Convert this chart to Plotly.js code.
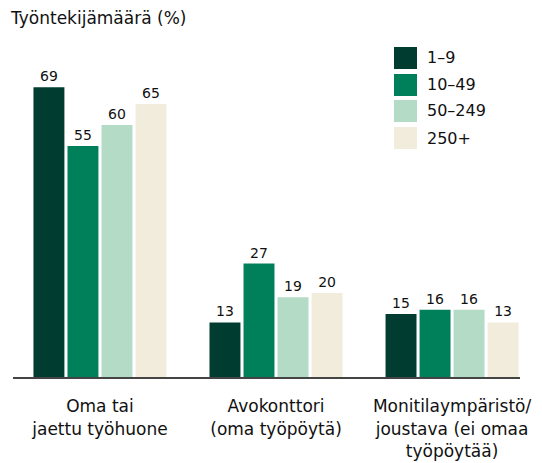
<!DOCTYPE html>
<html><head><meta charset="utf-8">
<script src="https://cdn.plot.ly/plotly-3.0.1.min.js"></script>
<style>html,body{margin:0;padding:0;background:#fff}#chart{width:542px;height:463px}</style>
</head><body><div id="chart"></div>
<script>
const categories = ["Oma tai<br>jaettu työhuone", "Avokonttori<br>(oma työpöytä)", "Monitilaympäristö/<br>joustava (ei omaa<br>työpöytää)"];
const seriesNames = ["1–9", "10–49", "50–249", "250+"];
const v1_9 = [69, 13, 15];
const v10_49 = [55, 27, 16];
const v50_249 = [60, 19, 16];
const v250 = [65, 20, 13];
const seriesValues = [v1_9, v10_49, v50_249, v250];
const colors = ["#003d30", "#00805a", "#b4dbc5", "#f2ecdc"];
const yTitle = "Työntekijämäärä (%)";

const W = 542, H = 463;
const L = 13, R = 520, T = 40, B = 377;
const fontFam = "'DejaVu Sans', sans-serif";

const traces = seriesValues.map((vals, i) => ({
  type: 'bar', name: seriesNames[i], x: [0,1,2], y: vals,
  marker: {color: colors[i]},
  text: vals.map(String), textposition: 'outside', cliponaxis: false,
  textfont: {size: 14, color: '#111', family: fontFam},
  showlegend: false, hoverinfo: 'skip'
}));

const px2x = p => (p - L) / (R - L);
const px2y = p => (B - p) / (B - T);
const shapes = [], annotations = [];
const legTop = [47, 74, 100, 127];
seriesNames.forEach((n, i) => {
  shapes.push({type:'rect', xref:'paper', yref:'paper', x0:px2x(394), x1:px2x(417), y0:px2y(legTop[i]+22), y1:px2y(legTop[i]), fillcolor:colors[i], line:{width:0}});
  annotations.push({xref:'paper', yref:'paper', x:px2x(425), y:px2y(legTop[i]+11), xanchor:'left', yanchor:'middle', text:n, showarrow:false, font:{size:16, color:'#111', family:fontFam}});
});

const layout = {
  width: W, height: H,
  margin: {l: L, r: W - R, t: T, b: H - B, pad: 0},
  paper_bgcolor: '#fff', plot_bgcolor: '#fff',
  font: {family: fontFam, color: '#111'},
  title: {text: yTitle, x: 11/W, xref: 'container', xanchor: 'left', y: 1 - 18/H, yref: 'container', yanchor: 'middle', font: {size: 17, color: '#111', family: fontFam}},
  barmode: 'group', bargap: 0.227, bargroupgap: 0.09,
  xaxis: {range: [-0.494, 2.386], tickvals: [0,1,2], ticktext: categories, showgrid: false, zeroline: false,
    showline: true, linecolor: '#444', linewidth: 2, ticks: '', ticklabelstandoff: 13,
    tickfont: {size: 17, color: '#111', family: fontFam}, fixedrange: true},
  yaxis: {range: [0, 80.24], visible: false, showgrid: false, zeroline: false, fixedrange: true},
  shapes, annotations, showlegend: false
};
Plotly.newPlot('chart', traces, layout, {displayModeBar: false, staticPlot: true});
</script></body></html>
